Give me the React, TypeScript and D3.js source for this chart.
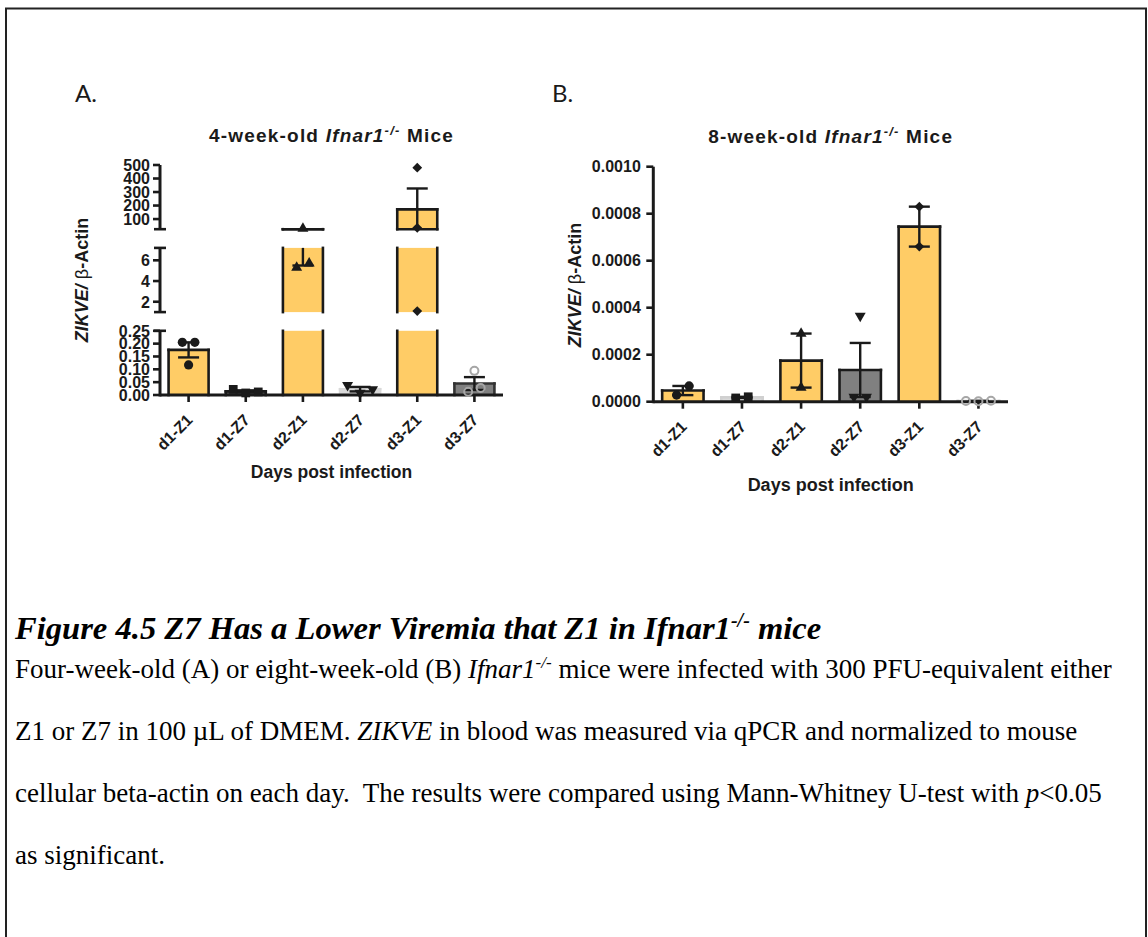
import { useEffect, useRef } from "react";
import * as d3 from "d3";

const categories = ["d1-Z1", "d1-Z7", "d2-Z1", "d2-Z7", "d3-Z1", "d3-Z7"];
const markerKinds = ["circle", "square", "triangle", "triangleDown", "diamond", "ring"];

// A: 4-week-old mice, ZIKVE / beta-actin per animal
const weekFourPoints = [
  [0.205, 0.205, 0.117],
  [0.022, 0.008, 0.012],
  [30, 5.3, 5.7],
  [0.038, 0.008, 0.022],
  [480, 35, 1.1],
  [0.094, 0.013, 0.027],
];
const weekFourFills = ["#FFCC66", "#595959", "#FFCC66", "#D9D9D9", "#FFCC66", "#808080"];
const weekFourEdges = ["#1a1a1a", "#1a1a1a", "#1a1a1a", "#D9D9D9", "#1a1a1a", "#333333"];
// pieces of the broken y axis, bottom to top
const weekFourPieces = [
  { domain: [0, 0.25], ticks: [0, 0.05, 0.1, 0.15, 0.2, 0.25], format: ".2f" },
  { domain: [1, 7.2], ticks: [2, 4, 6], format: "d" },
  { domain: [25, 500], ticks: [100, 200, 300, 400, 500], format: "d" },
];

// B: 8-week-old mice
const weekEightPoints = [
  [0.000028, 0.000067],
  [0.000016, 0.000021],
  [0.00029, 0.00006],
  [0.000365, 0.00002, 0.00002],
  [0.00083, 0.00066],
  [0.000003, 0.000002, 0.000004],
];
const weekEightFills = ["#FFCC66", "#D9D9D9", "#FFCC66", "#808080", "#FFCC66", "#D9D9D9"];
const weekEightEdges = ["#1a1a1a", "#D0D0D0", "#1a1a1a", "#1a1a1a", "#1a1a1a", "#D0D0D0"];
const weekEightPieces = [
  { domain: [0, 0.001], ticks: [0, 0.0002, 0.0004, 0.0006, 0.0008, 0.001], format: ".4f" },
];

const INK = "#1a1a1a";
const SANS = "'Liberation Sans', Arial, sans-serif";
const SERIF = "'Liberation Serif', 'Times New Roman', serif";

function spread(ys, step, near) {
  const order = d3.range(ys.length).sort((a, b) => ys[a] - ys[b]);
  const groups = [];
  order.forEach((i) => {
    const last = groups[groups.length - 1];
    if (last && Math.abs(ys[i] - ys[last[last.length - 1]]) < near) last.push(i);
    else groups.push([i]);
  });
  const off = ys.map(() => 0);
  groups.forEach((gr) => {
    const s = gr.slice().sort((a, b) => a - b);
    s.forEach((i, k) => (off[i] = (k - (s.length - 1) / 2) * step));
  });
  return off;
}

function drawMarker(g, kind, cx, cy) {
  if (kind === "circle" || kind === "ring") {
    g.append("circle")
      .attr("cx", cx)
      .attr("cy", cy)
      .attr("r", kind === "ring" ? 4 : 4.6)
      .attr("fill", kind === "ring" ? "none" : INK)
      .attr("stroke", kind === "ring" ? "#A6A6A6" : "none")
      .attr("stroke-width", 2);
    return;
  }
  let path, rot = 0;
  if (kind === "square") path = d3.symbol(d3.symbolSquare, 76)();
  else if (kind === "diamond") { path = d3.symbol(d3.symbolSquare, 48)(); rot = 45; }
  else { path = d3.symbol(d3.symbolTriangle, 52)(); rot = kind === "triangleDown" ? 180 : 0; }
  g.append("path")
    .attr("d", path)
    .attr("transform", `translate(${cx},${cy}) rotate(${rot})`)
    .attr("fill", INK);
}

function drawPanel(svg, cfg) {
  const { points, fills, edges, pieces, axisX, axisY, plotTop, xEnd, gap, tickGap, title, titleY, labelX, labelY, labelSize, xTitleY, xTitleSize, letter } = cfg;
  const g = svg.append("g");

  const x = d3.scaleBand().domain(categories).range([axisX, xEnd]).paddingInner(0.3).paddingOuter(0.15);
  const n = pieces.length;
  const segH = (axisY - plotTop - gap * (n - 1)) / n;
  const segs = pieces.map((p, i) => {
    const y0 = axisY - i * (segH + gap);
    return { ...p, y: d3.scaleLinear().domain(p.domain).range([y0, y0 - segH]) };
  });

  const stats = points.map((v) => {
    const mean = d3.mean(v);
    const sem = (d3.deviation(v) || 0) / Math.sqrt(v.length);
    return { mean, lo: mean - sem, hi: mean + sem };
  });

  // bars, clipped to each axis piece
  categories.forEach((c, ci) => {
    const { mean } = stats[ci];
    const x0 = x(c), x1 = x0 + x.bandwidth();
    segs.forEach((s, si) => {
      const [lo, hi] = s.domain;
      const lowerTop = si === 0 ? -Infinity : segs[si - 1].domain[1];
      if (mean <= lowerTop) return;
      const yb = s.y(lo);
      const yt = s.y(Math.max(lo, Math.min(mean, hi)));
      g.append("rect").attr("x", x0).attr("y", yt).attr("width", x.bandwidth()).attr("height", yb - yt).attr("fill", fills[ci]);
      const edge = (a, b, cc, d) =>
        g.append("line").attr("x1", a).attr("y1", b).attr("x2", cc).attr("y2", d)
          .attr("stroke", edges[ci]).attr("stroke-width", 2.6).attr("stroke-linecap", "square");
      edge(x0, yb, x0, yt);
      edge(x1, yb, x1, yt);
      if (mean <= hi) edge(x0, yt, x1, yt);
      if (si === n - 1 && si > 0) edge(x0, yb, x1, yb);
    });
  });

  // axes
  const axisLine = (a, b, cc, d, w = 3) =>
    g.append("line").attr("x1", a).attr("y1", b).attr("x2", cc).attr("y2", d).attr("stroke", INK).attr("stroke-width", w);
  segs.forEach((s, si) => {
    const [lo, hi] = s.domain;
    axisLine(axisX, si === 0 ? axisY + 1.5 : s.y(lo), axisX, s.y(hi));
    s.ticks.forEach((t) => {
      axisLine(axisX - 7, s.y(t), axisX, s.y(t), 2.6);
      g.append("text")
        .attr("x", axisX - tickGap)
        .attr("y", s.y(t))
        .attr("dy", "0.36em")
        .attr("text-anchor", "end")
        .attr("font-family", SANS)
        .attr("font-weight", "bold")
        .attr("font-size", 16)
        .attr("fill", INK)
        .text(d3.format(s.format)(t));
    });
    if (si > 0) axisLine(axisX - 6, s.y(lo), axisX + 6, s.y(lo), 2.6);
    if (si < n - 1) axisLine(axisX - 6, s.y(hi), axisX + 6, s.y(hi), 2.6);
  });
  axisLine(axisX, axisY, xEnd, axisY);
  categories.forEach((c) => {
    const cx = x(c) + x.bandwidth() / 2;
    axisLine(cx, axisY, cx, axisY + 7, 2.6);
    g.append("text")
      .attr("transform", `translate(${cx + 5},${axisY + 26}) rotate(-45)`)
      .attr("text-anchor", "end")
      .attr("font-family", SANS)
      .attr("font-weight", "bold")
      .attr("font-size", 16)
      .attr("fill", INK)
      .text(c);
  });

  // error bars (SEM), clipped per piece
  categories.forEach((c, ci) => {
    const st = stats[ci];
    const cx = x(c) + x.bandwidth() / 2;
    segs.forEach((s) => {
      const [lo, hi] = s.domain;
      const a = Math.max(st.lo, lo), b = Math.min(st.hi, hi);
      if (a >= b) return;
      axisLine(cx, s.y(a), cx, s.y(b), 2.4);
      if (st.hi >= lo && st.hi <= hi) axisLine(cx - 10.5, s.y(st.hi), cx + 10.5, s.y(st.hi), 2.4);
      if (st.lo >= lo && st.lo <= hi) axisLine(cx - 10.5, s.y(st.lo), cx + 10.5, s.y(st.lo), 2.4);
    });
  });

  // individual animals
  categories.forEach((c, ci) => {
    const cx = x(c) + x.bandwidth() / 2;
    const ys = points[ci].map((v) => {
      const s = segs.find((sg) => v >= sg.domain[0] - 1e-12 && v <= sg.domain[1]);
      return s ? s.y(v) : NaN;
    });
    const off = spread(ys, 12.5, 10);
    ys.forEach((py, pi) => {
      if (!isNaN(py)) drawMarker(g, markerKinds[ci], cx + off[pi], py);
    });
  });

  // titles
  const mid = (axisX + xEnd) / 2;
  const t = g.append("text").attr("x", mid).attr("y", titleY).attr("text-anchor", "middle")
    .attr("font-family", SANS).attr("font-weight", "bold").attr("font-size", 19)
    .attr("letter-spacing", 1.2).attr("fill", INK);
  t.append("tspan").text(title + " ");
  t.append("tspan").attr("font-style", "italic").text("Ifnar1");
  t.append("tspan").attr("font-style", "italic").attr("font-size", 13).attr("dy", -7).text("-/-");
  t.append("tspan").attr("dy", 7).text(" Mice");

  const yl = g.append("text").attr("transform", `translate(${labelX},${labelY}) rotate(-90)`).attr("text-anchor", "middle")
    .attr("font-family", SANS).attr("font-size", labelSize).attr("fill", INK).style("white-space", "pre");
  yl.append("tspan").attr("font-weight", "bold").attr("font-style", "italic").text("ZIKVE/ ");
  yl.append("tspan").text("β");
  yl.append("tspan").attr("font-weight", "bold").text("-Actin");

  g.append("text").attr("x", mid).attr("y", xTitleY).attr("text-anchor", "middle")
    .attr("font-family", SANS).attr("font-weight", "bold").attr("font-size", xTitleSize).attr("fill", INK)
    .text("Days post infection");

  g.append("text").attr("x", letter[0]).attr("y", letter[1])
    .attr("font-family", "Lato, 'Open Sans', sans-serif").attr("font-size", 24).attr("fill", INK).text(letter[2]);
}

export default function App() {
  const ref = useRef(null);

  useEffect(() => {
    const svg = d3.select(ref.current);
    svg.selectAll("*").remove();

    svg.append("rect").attr("width", 1148).attr("height", 937).attr("fill", "#fff");
    svg.append("rect").attr("x", 6).attr("y", 8.5).attr("width", 1140).attr("height", 945)
      .attr("fill", "none").attr("stroke", "#222").attr("stroke-width", 2);

    drawPanel(svg, {
      points: weekFourPoints, fills: weekFourFills, edges: weekFourEdges, pieces: weekFourPieces,
      axisX: 160, axisY: 395, plotTop: 165, xEnd: 503, gap: 18.7, tickGap: 10,
      title: "4-week-old", titleY: 142, labelX: 88, labelY: 280, labelSize: 18,
      xTitleY: 477.5, xTitleSize: 17.5, letter: [75, 102, "A."],
    });
    drawPanel(svg, {
      points: weekEightPoints, fills: weekEightFills, edges: weekEightEdges, pieces: weekEightPieces,
      axisX: 653.3, axisY: 401.7, plotTop: 166.7, xEnd: 1008, gap: 0, tickGap: 12.5,
      title: "8-week-old", titleY: 143, labelX: 581, labelY: 285, labelSize: 18,
      xTitleY: 491, xTitleSize: 18, letter: [552, 102, "B."],
    });

    // figure caption
    const cap = svg.append("text").attr("x", 15).attr("y", 639).attr("font-family", SERIF)
      .attr("font-size", 32.6).attr("font-weight", "bold").attr("font-style", "italic").attr("fill", "#000");
    cap.append("tspan").text("Figure 4.5 Z7 Has a Lower Viremia that Z1 in Ifnar1");
    cap.append("tspan").attr("font-size", 20).attr("dy", -12).text("-/-");
    cap.append("tspan").attr("dy", 12).text(" mice");

    const lines = [
      [["Four-week-old (A) or eight-week-old (B) ", ""], ["Ifnar1", "i"], ["-/-", "sup"], [" mice were infected with 300 PFU-equivalent either", ""]],
      [["Z1 or Z7 in 100 µL of DMEM. ", ""], ["ZIKVE", "i"], [" in blood was measured via qPCR and normalized to mouse", ""]],
      [["cellular beta-actin on each day.  The results were compared using Mann-Whitney U-test with ", ""], ["p", "i"], ["<0.05", ""]],
      [["as significant.", ""]],
    ];
    lines.forEach((parts, li) => {
      const tx = svg.append("text").attr("x", 15).attr("y", 678 + li * 62).attr("font-family", SERIF)
        .attr("font-size", 27).attr("fill", "#000").style("white-space", "pre");
      let raised = false;
      parts.forEach(([str, kind]) => {
        const sp = tx.append("tspan").text(str);
        if (kind === "i" || kind === "sup") sp.attr("font-style", "italic");
        if (kind === "sup") { sp.attr("font-size", 17).attr("dy", -10); raised = true; }
        else if (raised) { sp.attr("dy", 10); raised = false; }
      });
    });
  }, []);

  return (
    <svg
      ref={ref}
      width={1148}
      height={937}
      style={{ position: "absolute", left: 0, top: 0, display: "block" }}
    />
  );
}
